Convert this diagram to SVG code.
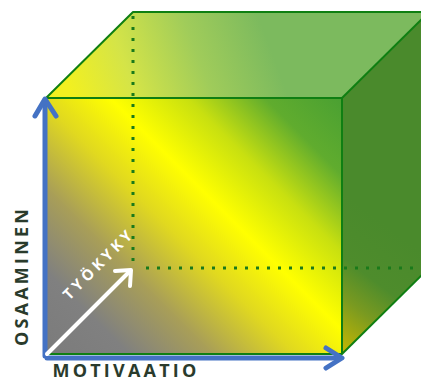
<svg xmlns="http://www.w3.org/2000/svg" width="421" height="382" viewBox="0 0 421 382">
<style>
.edge{fill:none;stroke:#0f7f12;stroke-width:2;stroke-linejoin:round}
.dots{fill:none;stroke:#1a7a1a;stroke-width:3;stroke-dasharray:3 8}
.axis{fill:none;stroke:#4472c4;stroke-width:5;stroke-linecap:round;stroke-linejoin:round}
.warrow{fill:none;stroke:#ffffff;stroke-width:4;stroke-linecap:round;stroke-linejoin:round}
.lbl{font-family:"Open Sans","DejaVu Sans",sans-serif;font-weight:700;font-size:18px;fill:#2a3b2c;letter-spacing:3.2px}
.wlbl{font-family:"Open Sans","DejaVu Sans",sans-serif;font-weight:700;font-size:15px;fill:#ffffff;letter-spacing:3.6px}
</style>
<defs>
<linearGradient id="gFront" gradientUnits="userSpaceOnUse" x1="46" y1="354" x2="322" y2="78">
<stop offset="0" stop-color="#7b7b7b"/>
<stop offset="0.15" stop-color="#808080"/>
<stop offset="0.3" stop-color="#a89e58"/>
<stop offset="0.45" stop-color="#e0d820"/>
<stop offset="0.58" stop-color="#ffff00"/>
<stop offset="0.72" stop-color="#c8e010"/>
<stop offset="0.86" stop-color="#60ac2e"/>
<stop offset="1" stop-color="#4aa032"/>
</linearGradient>
<linearGradient id="gTop" gradientUnits="userSpaceOnUse" x1="70" y1="90" x2="260" y2="20">
<stop offset="0" stop-color="#f2f020"/>
<stop offset="0.3" stop-color="#d4e448"/>
<stop offset="0.65" stop-color="#a0cc5a"/>
<stop offset="1" stop-color="#7cba5e"/>
</linearGradient>
<linearGradient id="gRight" gradientUnits="userSpaceOnUse" x1="342" y1="354" x2="420" y2="250">
<stop offset="0" stop-color="#c8b800"/>
<stop offset="0.35" stop-color="#7a9a20"/>
<stop offset="0.6" stop-color="#4e8c2c"/>
<stop offset="1" stop-color="#4a8a2c"/>
</linearGradient>
</defs>

<g id="cube">
<polygon points="46,98 133,12 429,12 342,98" fill="url(#gTop)"/>
<polygon points="342,98 429,12 429,268 342,354" fill="url(#gRight)"/>
<rect x="46" y="98" width="296" height="256" fill="url(#gFront)"/>
<g id="hidden-edges">
<line class="dots" x1="133" y1="16" x2="133" y2="268"/>
<line class="dots" x1="146" y1="268" x2="421" y2="268"/>
</g>
<polyline class="edge" points="46,98 133,12 429,12"/>
<rect class="edge" x="46" y="98" width="296" height="256"/>
<polyline class="edge" points="342,98 429,12"/>
<polyline class="edge" points="342,354 429,268"/>
</g>

<g id="connectors">
<g id="axis-osaaminen">
<line class="axis" x1="45" y1="356" x2="45" y2="100"/>
<polyline class="axis" points="35,116 45,99 56,116"/>
</g>
<g id="axis-motivaatio">
<line class="axis" x1="47" y1="358" x2="340" y2="358"/>
<polyline class="axis" points="326,348 342,358 326,368"/>
</g>
<g id="arrow-tyokyky">
<line class="warrow" x1="47" y1="354" x2="130" y2="271"/>
<polyline class="warrow" points="115,271 131,270 130,286"/>
</g>
</g>

<g id="label-osaaminen">
<text class="lbl" transform="translate(28,276) rotate(-90)" text-anchor="middle">OSAAMINEN</text>
</g>
<g id="label-motivaatio">
<text class="lbl" x="126" y="377" text-anchor="middle">MOTIVAATIO</text>
</g>
<g id="label-tyokyky">
<text class="wlbl" transform="translate(99,264) rotate(-45)" text-anchor="middle" y="5">TYÖKYKY</text>
</g>
</svg>
